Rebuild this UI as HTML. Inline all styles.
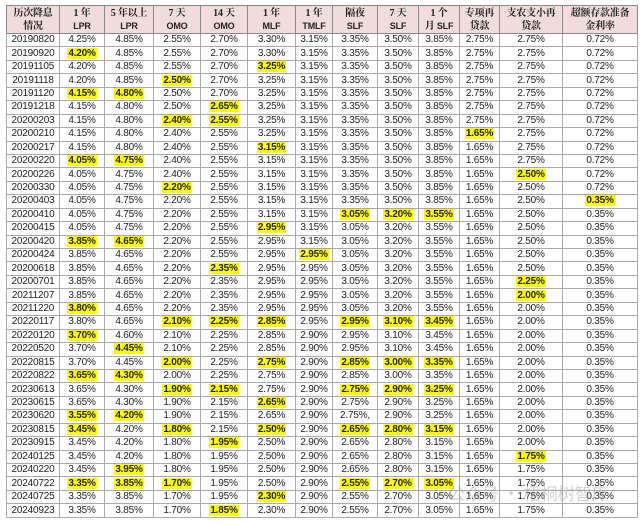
<!DOCTYPE html>
<html><head><meta charset="utf-8"><style>
html,body{margin:0;padding:0;background:#fff;width:642px;height:524px;overflow:hidden}
table{position:absolute;left:6px;top:5px;border-collapse:collapse;table-layout:fixed;width:631px;font-family:"Liberation Sans","Noto Sans CJK SC",sans-serif;font-size:10px;color:#222}
td{border:1px solid #aaa;height:12.45px;padding:0;text-align:center;line-height:12px;white-space:nowrap;overflow:hidden;letter-spacing:-0.2px}
tr.h td{background:#f2dcdb;height:27px;line-height:13px;font-weight:bold;font-family:"Liberation Serif","Noto Serif CJK SC",serif;font-size:10px;border-color:#888}
tr.h td span{font-family:"Liberation Sans",sans-serif;font-size:9px}
b{background:#ffff00;font-weight:bold;padding:0 1px}
tr.k td{border-bottom:1px solid #333}
.wm{position:absolute;left:448px;top:480px;font-family:"Noto Sans CJK SC",sans-serif;font-size:17px;color:rgba(150,150,150,0.45)}
</style></head><body>
<table>
<colgroup><col style="width:53px"><col style="width:45px"><col style="width:49px"><col style="width:47px"><col style="width:47px"><col style="width:48px"><col style="width:37px"><col style="width:45px"><col style="width:41px"><col style="width:41px"><col style="width:40px"><col style="width:63px"><col style="width:75px"></colgroup>
<tr class="h"><td>历次降息<br>情况</td><td>1 年<br><span>LPR</span></td><td>5 年以上<br><span>LPR</span></td><td>7 天<br><span>OMO</span></td><td>14 天<br><span>OMO</span></td><td>1 年<br><span>MLF</span></td><td>1 年<br><span>TMLF</span></td><td>隔夜<br><span>SLF</span></td><td>7 天<br><span>SLF</span></td><td>1 个<br>月 <span>SLF</span></td><td>专项再<br>贷款</td><td>支农支小再<br>贷款</td><td>超额存款准备<br>金利率</td></tr>
<tr><td>20190820</td><td>4.25%</td><td>4.85%</td><td>2.55%</td><td>2.70%</td><td>3.30%</td><td>3.15%</td><td>3.35%</td><td>3.50%</td><td>3.85%</td><td>2.75%</td><td>2.75%</td><td>0.72%</td></tr>
<tr><td>20190920</td><td><b>4.20%</b></td><td>4.85%</td><td>2.55%</td><td>2.70%</td><td>3.30%</td><td>3.15%</td><td>3.35%</td><td>3.50%</td><td>3.85%</td><td>2.75%</td><td>2.75%</td><td>0.72%</td></tr>
<tr><td>20191105</td><td>4.20%</td><td>4.85%</td><td>2.55%</td><td>2.70%</td><td><b>3.25%</b></td><td>3.15%</td><td>3.35%</td><td>3.50%</td><td>3.85%</td><td>2.75%</td><td>2.75%</td><td>0.72%</td></tr>
<tr><td>20191118</td><td>4.20%</td><td>4.85%</td><td><b>2.50%</b></td><td>2.70%</td><td>3.25%</td><td>3.15%</td><td>3.35%</td><td>3.50%</td><td>3.85%</td><td>2.75%</td><td>2.75%</td><td>0.72%</td></tr>
<tr><td>20191120</td><td><b>4.15%</b></td><td><b>4.80%</b></td><td>2.50%</td><td>2.70%</td><td>3.25%</td><td>3.15%</td><td>3.35%</td><td>3.50%</td><td>3.85%</td><td>2.75%</td><td>2.75%</td><td>0.72%</td></tr>
<tr><td>20191218</td><td>4.15%</td><td>4.80%</td><td>2.50%</td><td><b>2.65%</b></td><td>3.25%</td><td>3.15%</td><td>3.35%</td><td>3.50%</td><td>3.85%</td><td>2.75%</td><td>2.75%</td><td>0.72%</td></tr>
<tr><td>20200203</td><td>4.15%</td><td>4.80%</td><td><b>2.40%</b></td><td><b>2.55%</b></td><td>3.25%</td><td>3.15%</td><td>3.35%</td><td>3.50%</td><td>3.85%</td><td>2.75%</td><td>2.75%</td><td>0.72%</td></tr>
<tr><td>20200210</td><td>4.15%</td><td>4.80%</td><td>2.40%</td><td>2.55%</td><td>3.25%</td><td>3.15%</td><td>3.35%</td><td>3.50%</td><td>3.85%</td><td><b>1.65%</b></td><td>2.75%</td><td>0.72%</td></tr>
<tr><td>20200217</td><td>4.15%</td><td>4.80%</td><td>2.40%</td><td>2.55%</td><td><b>3.15%</b></td><td>3.15%</td><td>3.35%</td><td>3.50%</td><td>3.85%</td><td>1.65%</td><td>2.75%</td><td>0.72%</td></tr>
<tr><td>20200220</td><td><b>4.05%</b></td><td><b>4.75%</b></td><td>2.40%</td><td>2.55%</td><td>3.15%</td><td>3.15%</td><td>3.35%</td><td>3.50%</td><td>3.85%</td><td>1.65%</td><td>2.75%</td><td>0.72%</td></tr>
<tr><td>20200226</td><td>4.05%</td><td>4.75%</td><td>2.40%</td><td>2.55%</td><td>3.15%</td><td>3.15%</td><td>3.35%</td><td>3.50%</td><td>3.85%</td><td>1.65%</td><td><b>2.50%</b></td><td>0.72%</td></tr>
<tr><td>20200330</td><td>4.05%</td><td>4.75%</td><td><b>2.20%</b></td><td>2.55%</td><td>3.15%</td><td>3.15%</td><td>3.35%</td><td>3.50%</td><td>3.85%</td><td>1.65%</td><td>2.50%</td><td>0.72%</td></tr>
<tr><td>20200403</td><td>4.05%</td><td>4.75%</td><td>2.20%</td><td>2.55%</td><td>3.15%</td><td>3.15%</td><td>3.35%</td><td>3.50%</td><td>3.85%</td><td>1.65%</td><td>2.50%</td><td><b>0.35%</b></td></tr>
<tr><td>20200410</td><td>4.05%</td><td>4.75%</td><td>2.20%</td><td>2.55%</td><td>3.15%</td><td>3.15%</td><td><b>3.05%</b></td><td><b>3.20%</b></td><td><b>3.55%</b></td><td>1.65%</td><td>2.50%</td><td>0.35%</td></tr>
<tr><td>20200415</td><td>4.05%</td><td>4.75%</td><td>2.20%</td><td>2.55%</td><td><b>2.95%</b></td><td>3.15%</td><td>3.05%</td><td>3.20%</td><td>3.55%</td><td>1.65%</td><td>2.50%</td><td>0.35%</td></tr>
<tr><td>20200420</td><td><b>3.85%</b></td><td><b>4.65%</b></td><td>2.20%</td><td>2.55%</td><td>2.95%</td><td>3.15%</td><td>3.05%</td><td>3.20%</td><td>3.55%</td><td>1.65%</td><td>2.50%</td><td>0.35%</td></tr>
<tr><td>20200424</td><td>3.85%</td><td>4.65%</td><td>2.20%</td><td>2.55%</td><td>2.95%</td><td><b>2.95%</b></td><td>3.05%</td><td>3.20%</td><td>3.55%</td><td>1.65%</td><td>2.50%</td><td>0.35%</td></tr>
<tr><td>20200618</td><td>3.85%</td><td>4.65%</td><td>2.20%</td><td><b>2.35%</b></td><td>2.95%</td><td>2.95%</td><td>3.05%</td><td>3.20%</td><td>3.55%</td><td>1.65%</td><td>2.50%</td><td>0.35%</td></tr>
<tr><td>20200701</td><td>3.85%</td><td>4.65%</td><td>2.20%</td><td>2.35%</td><td>2.95%</td><td>2.95%</td><td>3.05%</td><td>3.20%</td><td>3.55%</td><td>1.65%</td><td><b>2.25%</b></td><td>0.35%</td></tr>
<tr><td>20211207</td><td>3.85%</td><td>4.65%</td><td>2.20%</td><td>2.35%</td><td>2.95%</td><td>2.95%</td><td>3.05%</td><td>3.20%</td><td>3.55%</td><td>1.65%</td><td><b>2.00%</b></td><td>0.35%</td></tr>
<tr><td>20211220</td><td><b>3.80%</b></td><td>4.65%</td><td>2.20%</td><td>2.35%</td><td>2.95%</td><td>2.95%</td><td>3.05%</td><td>3.20%</td><td>3.55%</td><td>1.65%</td><td>2.00%</td><td>0.35%</td></tr>
<tr><td>20220117</td><td>3.80%</td><td>4.65%</td><td><b>2.10%</b></td><td><b>2.25%</b></td><td><b>2.85%</b></td><td>2.95%</td><td><b>2.95%</b></td><td><b>3.10%</b></td><td><b>3.45%</b></td><td>1.65%</td><td>2.00%</td><td>0.35%</td></tr>
<tr><td>20220120</td><td><b>3.70%</b></td><td>4.60%</td><td>2.10%</td><td>2.25%</td><td>2.85%</td><td>2.90%</td><td>2.95%</td><td>3.10%</td><td>3.45%</td><td>1.65%</td><td>2.00%</td><td>0.35%</td></tr>
<tr><td>20220520</td><td>3.70%</td><td><b>4.45%</b></td><td>2.10%</td><td>2.25%</td><td>2.85%</td><td>2.90%</td><td>2.95%</td><td>3.10%</td><td>3.45%</td><td>1.65%</td><td>2.00%</td><td>0.35%</td></tr>
<tr><td>20220815</td><td>3.70%</td><td>4.45%</td><td><b>2.00%</b></td><td>2.25%</td><td><b>2.75%</b></td><td>2.90%</td><td><b>2.85%</b></td><td><b>3.00%</b></td><td><b>3.35%</b></td><td>1.65%</td><td>2.00%</td><td>0.35%</td></tr>
<tr><td>20220822</td><td><b>3.65%</b></td><td><b>4.30%</b></td><td>2.00%</td><td>2.25%</td><td>2.75%</td><td>2.90%</td><td>2.85%</td><td>3.00%</td><td>3.35%</td><td>1.65%</td><td>2.00%</td><td>0.35%</td></tr>
<tr><td>20230613</td><td>3.65%</td><td>4.30%</td><td><b>1.90%</b></td><td><b>2.15%</b></td><td>2.75%</td><td>2.90%</td><td><b>2.75%</b></td><td><b>2.90%</b></td><td><b>3.25%</b></td><td>1.65%</td><td>2.00%</td><td>0.35%</td></tr>
<tr><td>20230615</td><td>3.65%</td><td>4.30%</td><td>1.90%</td><td>2.15%</td><td><b>2.65%</b></td><td>2.90%</td><td>2.75%</td><td>2.90%</td><td>3.25%</td><td>1.65%</td><td>2.00%</td><td>0.35%</td></tr>
<tr><td>20230620</td><td><b>3.55%</b></td><td><b>4.20%</b></td><td>1.90%</td><td>2.15%</td><td>2.65%</td><td>2.90%</td><td>2.75%,</td><td>2.90%</td><td>3.25%</td><td>1.65%</td><td>2.00%</td><td>0.35%</td></tr>
<tr><td>20230815</td><td><b>3.45%</b></td><td>4.20%</td><td><b>1.80%</b></td><td>2.15%</td><td><b>2.50%</b></td><td>2.90%</td><td><b>2.65%</b></td><td><b>2.80%</b></td><td><b>3.15%</b></td><td>1.65%</td><td>2.00%</td><td>0.35%</td></tr>
<tr><td>20230915</td><td>3.45%</td><td>4.20%</td><td>1.80%</td><td><b>1.95%</b></td><td>2.50%</td><td>2.90%</td><td>2.65%</td><td>2.80%</td><td>3.15%</td><td>1.65%</td><td>2.00%</td><td>0.35%</td></tr>
<tr><td>20240125</td><td>3.45%</td><td>4.20%</td><td>1.80%</td><td>1.95%</td><td>2.50%</td><td>2.90%</td><td>2.65%</td><td>2.80%</td><td>3.15%</td><td>1.65%</td><td><b>1.75%</b></td><td>0.35%</td></tr>
<tr><td>20240220</td><td>3.45%</td><td><b>3.95%</b></td><td>1.80%</td><td>1.95%</td><td>2.50%</td><td>2.90%</td><td>2.65%</td><td>2.80%</td><td>3.15%</td><td>1.65%</td><td>1.75%</td><td>0.35%</td></tr>
<tr><td>20240722</td><td><b>3.35%</b></td><td><b>3.85%</b></td><td><b>1.70%</b></td><td>1.95%</td><td>2.50%</td><td>2.90%</td><td><b>2.55%</b></td><td><b>2.70%</b></td><td><b>3.05%</b></td><td>1.65%</td><td>1.75%</td><td>0.35%</td></tr>
<tr><td>20240725</td><td>3.35%</td><td>3.85%</td><td>1.70%</td><td>1.95%</td><td><b>2.30%</b></td><td>2.90%</td><td>2.55%</td><td>2.70%</td><td>3.05%</td><td>1.65%</td><td>1.75%</td><td>0.35%</td></tr>
<tr><td>20240923</td><td>3.35%</td><td>3.85%</td><td>1.70%</td><td><b>1.85%</b></td><td>2.30%</td><td>2.90%</td><td>2.55%</td><td>2.70%</td><td>3.05%</td><td>1.65%</td><td>1.75%</td><td>0.35%</td></tr>
</table>
<div class="wm">公众号 · 梧桐树智库</div>
</body></html>
